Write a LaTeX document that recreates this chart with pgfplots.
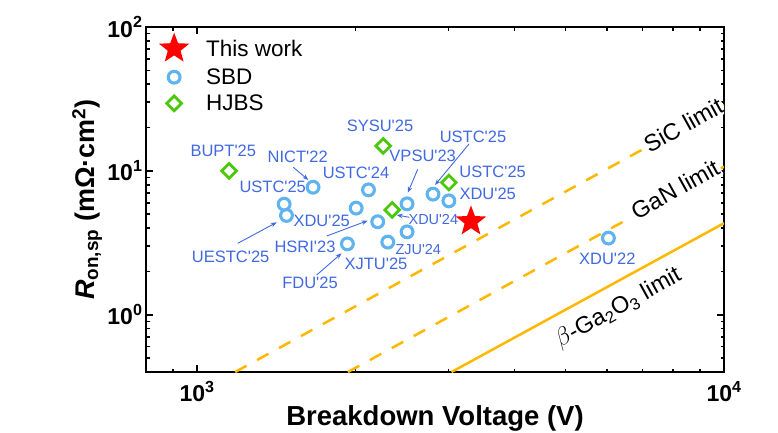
\documentclass[border=0pt]{standalone}
\usepackage{pgfplots}
\pgfplotsset{compat=1.18}
\usepackage{fontspec}
\newfontfamily\arial{Liberation Sans}
\usetikzlibrary{arrows.meta}
\definecolor{sbd}{RGB}{95,180,240}
\definecolor{hjbs}{RGB}{76,200,10}
\definecolor{lab}{RGB}{65,105,225}
\definecolor{lim}{RGB}{255,183,0}
\pgfdeclareplotmark{fstar}{%
 \pgfpathmoveto{\pgfpointpolar{90}{\pgfplotmarksize}}%
 \pgfpathlineto{\pgfpointpolar{126}{0.42\pgfplotmarksize}}%
 \pgfpathlineto{\pgfpointpolar{162}{\pgfplotmarksize}}%
 \pgfpathlineto{\pgfpointpolar{198}{0.42\pgfplotmarksize}}%
 \pgfpathlineto{\pgfpointpolar{234}{\pgfplotmarksize}}%
 \pgfpathlineto{\pgfpointpolar{270}{0.42\pgfplotmarksize}}%
 \pgfpathlineto{\pgfpointpolar{306}{\pgfplotmarksize}}%
 \pgfpathlineto{\pgfpointpolar{342}{0.42\pgfplotmarksize}}%
 \pgfpathlineto{\pgfpointpolar{18}{\pgfplotmarksize}}%
 \pgfpathlineto{\pgfpointpolar{54}{0.42\pgfplotmarksize}}%
 \pgfpathclose\pgfusepathqfill}
\tikzset{lbl/.style={font=\arial\fontsize{16.5}{19}\selectfont, text=lab, inner sep=0pt},
  sm/.style={font=\arial\fontsize{14.5}{17}\selectfont, text=lab, inner sep=0pt},
  arr/.style={draw=lab, line width=0.9pt, -{Stealth[length=6pt,width=4.5pt]}},
  limlab/.style={font=\arial\fontsize{23.5}{26}\selectfont, rotate=29, inner sep=1.5pt, fill=white}}
\begin{document}
\begin{tikzpicture}
\begin{axis}[
  name=ax,
  xmode=log, ymode=log,
  scale only axis, width=578pt, height=345pt,
  xmin=800, xmax=10000, ymin=0.4, ymax=100,
  xtick={1000,10000}, xticklabels={10\textsuperscript{3},10\textsuperscript{4}},
  ytick={1,10,100}, yticklabels={10\textsuperscript{0},10\textsuperscript{1},10\textsuperscript{2}},
  minor xtick={900,2000,3000,4000,5000,6000,7000,8000,9000},
  minor ytick={0.5,0.6,0.7,0.8,0.9,2,3,4,5,6,7,8,9,20,30,40,50,60,70,80,90},
  tick style={line width=1.6pt, black},
  major tick length=7pt, minor tick length=3.5pt,
  axis line style={line width=2.6pt},
  ticklabel style={font=\arial\bfseries\fontsize{23}{27}\selectfont},
  xticklabel style={yshift=-6pt},
  xlabel={Breakdown Voltage (V)},
  xlabel style={font=\arial\bfseries\fontsize{27.5}{31}\selectfont, at={(axis description cs:0.5,-0.135)}, anchor=center},
  ylabel={\textit{R}\textsubscript{on,sp} (mΩ·cm\textsuperscript{2})},
  ylabel style={font=\arial\bfseries\fontsize{27}{30}\selectfont, at={(axis description cs:-0.102,0.5)}, anchor=center},
  legend style={draw=none, fill=none, at={(axis description cs:0.012,0.99)}, anchor=north west,
    font=\arial\fontsize{22.5}{26}\selectfont, row sep=5pt},
  legend cell align=left,
  legend image code/.code={\path[draw=none,fill=none] (0pt,-4pt) rectangle (48pt,4pt);\draw[mark repeat=2,mark phase=2,#1] plot coordinates {(0pt,0pt) (18pt,0pt) (36pt,0pt)};},
]
% limit lines
\addplot[forget plot, lim, line width=2.5pt, dash pattern=on 13pt off 12pt] coordinates {(1181,0.4) (10000,28.7)};
\addplot[forget plot, lim, line width=2.5pt, dash pattern=on 13pt off 12pt] coordinates {(1933,0.4) (10000,10.7)};
\addplot[forget plot, lim, line width=2.5pt] coordinates {(3040,0.4) (10000,4.33)};
% This work
\addplot[only marks, mark=fstar, mark size=16pt, color=red, mark options={fill=red}] coordinates {(3310,4.45)};
\addlegendentry{This work}
% SBD
\addplot[only marks, mark=o, mark size=5.9pt, line width=3.1pt, color=sbd] coordinates {
(1660,7.7) (1463,5.87) (1478,4.90) (2115,7.38) (2004,5.51) (2202,4.43)
(2503,5.90) (2503,3.77) (2301,3.20) (1929,3.11) (2804,6.89) (3005,6.19) (6035,3.41)};
\addlegendentry{SBD}
% HJBS
\addplot[only marks, mark=square, mark size=5.2pt, line width=2.8pt, color=hjbs, mark options={rotate=45}] coordinates {
(1150,10.0) (2255,14.9) (3005,8.3) (2345,5.35)};
\addlegendentry{HJBS}
% labels
\node[lbl] at (rel axis cs:0.1337,0.6414) {BUPT'25};
\node[lbl] at (rel axis cs:0.4048,0.7130) {SYSU'25};
\node[lbl] at (rel axis cs:0.2625,0.6223) {NICT'22};
\node[lbl] at (rel axis cs:0.3633,0.5777) {USTC'24};
\node[lbl] at (rel axis cs:0.2192,0.5354) {USTC'25};
\node[lbl] at (rel axis cs:0.3040,0.4386) {XDU'25};
\node[lbl] at (rel axis cs:0.4787,0.6261) {VPSU'23};
\node[lbl] at (rel axis cs:0.5657,0.6826) {USTC'25};
\node[lbl] at (rel axis cs:0.5998,0.5806) {USTC'25};
\node[lbl] at (rel axis cs:0.5912,0.5151) {XDU'25};
\node[sm] at (rel axis cs:0.4971,0.4426) {XDU'24};
\node[lbl] at (rel axis cs:0.2751,0.3632) {HSRI'23};
\node[sm] at (rel axis cs:0.4711,0.3557) {ZJU'24};
\node[lbl] at (rel axis cs:0.3979,0.3130) {XJTU'25};
\node[lbl] at (rel axis cs:0.2837,0.2588) {FDU'25};
\node[lbl] at (rel axis cs:0.1465,0.3342) {UESTC'25};
\node[lbl] at (rel axis cs:0.7981,0.3275) {XDU'22};
% arrows
\draw[arr] (rel axis cs:0.2549,0.5933) -- (rel axis cs:0.2808,0.5565);
\draw[arr] (rel axis cs:0.4701,0.5875) -- (rel axis cs:0.4528,0.5197);
\draw[arr] (rel axis cs:0.5588,0.6609) -- (rel axis cs:0.5000,0.5420);
\draw[arr] (rel axis cs:0.4555,0.4484) -- (rel axis cs:0.4337,0.4551);
\draw[arr] (rel axis cs:0.3126,0.3942) -- (rel axis cs:0.3834,0.4386);
\draw[arr] (rel axis cs:0.1587,0.3730) -- (rel axis cs:0.2262,0.4339);
\draw[arr] (rel axis cs:0.2953,0.2812) -- (rel axis cs:0.3383,0.3441);
% limit labels
\node[limlab] at (rel axis cs:0.9296,0.7160) {SiC limit};
\node[limlab] at (rel axis cs:0.9152,0.5296) {GaN limit};
\node[limlab] at (rel axis cs:0.8172,0.1846) {$\beta$-Ga\textsubscript{2}O\textsubscript{3} limit};
\end{axis}
\pgfresetboundingbox
\path (ax.south west) ++(-146pt,-60pt) rectangle ++(778pt,432pt);
\end{tikzpicture}
\end{document}
